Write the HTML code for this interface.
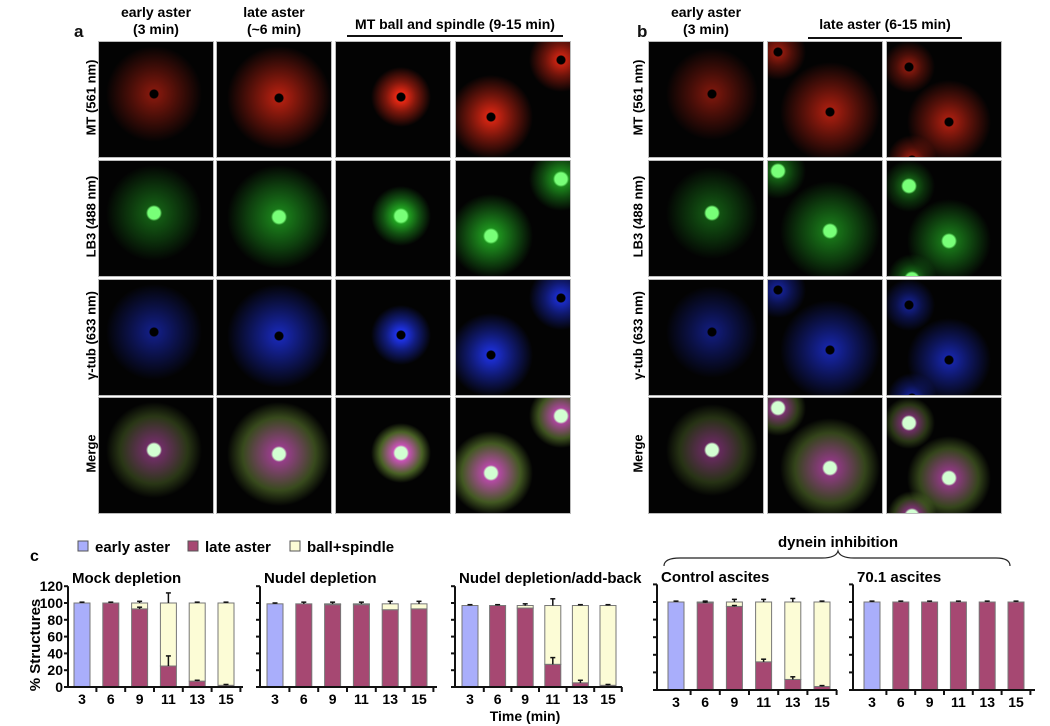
<!DOCTYPE html>
<html><head><meta charset="utf-8">
<style>
body{margin:0;background:#fff;width:1050px;height:726px;overflow:hidden;position:relative;font-family:"Liberation Sans",Arial,sans-serif;}
.t{position:absolute;font-weight:bold;color:#111;}
.tile{position:absolute;width:114px;height:115px;background:#030303;outline:1px solid #bbb;overflow:hidden;}
.rl{position:absolute;font-weight:bold;font-size:13px;transform:rotate(-90deg);transform-origin:center;white-space:nowrap;width:120px;text-align:center;}
.hd{position:absolute;font-weight:bold;font-size:14px;text-align:center;line-height:17px;}
</style></head><body>
<div class="t" style="left:74px;top:22px;font-size:17px;">a</div>
<div class="t" style="left:637px;top:22px;font-size:17px;">b</div>
<div class="hd" style="left:96px;top:4px;width:120px;">early aster<br>(3 min)</div>
<div class="hd" style="left:214px;top:4px;width:120px;">late aster<br>(~6 min)</div>
<div class="hd" style="left:340px;top:16px;width:230px;">MT ball and spindle (9-15 min)</div>
<div style="position:absolute;left:347px;top:35px;width:216px;height:2px;background:#111;"></div>
<div class="hd" style="left:646px;top:4px;width:120px;">early aster<br>(3 min)</div>
<div class="hd" style="left:800px;top:16px;width:170px;">late aster (6-15 min)</div>
<div style="position:absolute;left:808px;top:37px;width:154px;height:2px;background:#111;"></div>
<div id="tiles"></div>
<svg id="chart" width="1050" height="726" style="position:absolute;left:0;top:0;"></svg>
<script>
// ---------- microscopy tiles (decorative) ----------
const rowsY=[42,161,280,398];
const colsA=[99,217,336,456], colsB=[649,768,887];
const rowLabels=["MT (561 nm)","LB3 (488 nm)","γ-tub (633 nm)","Merge"];
const blobs={
 a0:[[55,52,48,0.55]],a1:[[62,56,52,0.75]],a2:[[65,55,30,1]],a3:[[35,75,42,0.9],[105,18,32,0.85]],
 b0:[[63,52,46,0.5]],b1:[[62,70,50,0.7],[10,10,28,0.6]],b2:[[62,80,42,0.7],[22,25,26,0.55],[25,118,25,0.6]]
};
const colors=["230,40,20","40,200,40","30,50,230","220,90,200"];
const tilesEl=document.getElementById('tiles');
function makeTile(x,y,key,row){
 const d=document.createElement('div');
 d.className='tile';d.style.left=x+'px';d.style.top=y+'px';
 
 
 const g=[];
 blobs[key].forEach(b=>{
  const [cx,cy,r,a]=b;const c=colors[row];
  if(row===0||row===2) g.push(`radial-gradient(circle at ${cx}px ${cy}px, rgba(0,0,0,1) 0 4px, rgba(${c},${a}) 5px, rgba(${c},${a*0.55}) ${r*0.5}px, rgba(0,0,0,0) ${r}px)`);
  else if(row===1) g.push(`radial-gradient(circle at ${cx}px ${cy}px, rgba(120,255,120,1) 0 6px, rgba(${c},${a*0.8}) 8px, rgba(${c},${a*0.4}) ${r*0.6}px, rgba(0,0,0,0) ${r}px)`);
  else g.push(`radial-gradient(circle at ${cx}px ${cy}px, rgba(210,255,210,1) 0 6px, rgba(${c},${a*0.9}) 8px, rgba(120,160,60,${a*0.6}) ${r*0.7}px, rgba(0,0,0,0) ${r}px)`);
 });
 d.style.background=g.join(',')+',#030303';
 tilesEl.appendChild(d);
}
rowsY.forEach((y,r)=>{
 colsA.forEach((x,i)=>makeTile(x,y,'a'+i,r));
 colsB.forEach((x,i)=>makeTile(x,y,'b'+i,r));
 [[31,'a'],[578,'b']].forEach(([lx,p])=>{
  const l=document.createElement('div');l.className='rl';
  l.style.left=lx+'px';l.style.top=(y+48)+'px';l.textContent=rowLabels[r];
  
  
  tilesEl.appendChild(l);
 });
});
</script>
<script>
// ---------- bar chart data ----------
const categories=["3","6","9","11","13","15"];
const yTicks=[0,20,40,60,80,100,120];
const panelTitles=["Mock depletion","Nudel depletion","Nudel depletion/add-back","Control ascites","70.1 ascites"];
const earlyMock=[100,0,0,0,0,0], lateMock=[0,100,93,25,7,2], ballMock=[0,0,7,75,93,98], errMock=[1,1,2,12,1,1];
const earlyNudel=[99,0,0,0,0,0], lateNudel=[0,99,98,98,92,93], ballNudel=[0,0,1,1,7,6], errNudel=[1,2,2,2,3,3];
const earlyAdd=[97,0,0,0,0,0], lateAdd=[0,97,94,27,5,2], ballAdd=[0,0,3,70,92,95], errAdd=[1,1,2,8,1,1];
const earlyCtl=[100,0,0,0,0,0], lateCtl=[0,99,95,32,12,4], ballCtl=[0,1,5,68,88,96], errCtl=[1,1,3,3,4,1];
const early701=[100,0,0,0,0,0], late701=[0,100,100,100,100,100], ball701=[0,0,0,0,0,0], err701=[1,1,1,1,1,1];
const lateErr=[[0,1,2,12,1,1],[0,1,0,0,0,0],[0,0,0,8,3,1],[0,1,1,3,3,1],[0,0,0,0,0,0]];
</script>
<script>
const svg=document.getElementById('chart');
const NS='http://www.w3.org/2000/svg';
function el(tag,attrs,name){const e=document.createElementNS(NS,tag);for(const k in attrs)e.setAttribute(k,attrs[k]);
 
 
 svg.appendChild(e);return e;}
const panels=[
 {x0:68,x1:243,y0:687,y100:603,first:82,step:28.8,data:[earlyMock,lateMock,ballMock,errMock],labels:true},
 {x0:260,x1:437,y0:687,y100:603,first:275,step:28.8,data:[earlyNudel,lateNudel,ballNudel,errNudel]},
 {x0:455,x1:622,y0:687,y100:603,first:470,step:27.6,data:[earlyAdd,lateAdd,ballAdd,errAdd]},
 {x0:657,x1:837,y0:690,y100:602,first:676,step:29.2,data:[earlyCtl,lateCtl,ballCtl,errCtl]},
 {x0:853,x1:1035,y0:690,y100:602,first:872,step:28.8,data:[early701,late701,ball701,err701]}
];
const cols={early:"#a9aefb",late:"#a64872",ball:"#fcfcd6"};
panels.forEach((p,pi)=>{
 const ys=v=>p.y0-(p.y100-p.y0)*-v/100;
 const xs=i=>p.first+i*p.step;
 const [e,l,b,er]=p.data;
 el('text',{x:p.x0+4,y:p.y100-20,'font-size':15,'font-weight':'bold','font-family':'Liberation Sans, sans-serif'},'panel-title-'+pi).textContent=panelTitles[pi];
 categories.forEach((c,i)=>{
  const bw=16,x=xs(i)-bw/2;
  let base=0;
  [[e[i],cols.early,'early'],[l[i],cols.late,'late'],[b[i],cols.ball,'ball']].forEach(([v,col,nm])=>{
   if(v>0){el('rect',{x:x,y:ys(base+v),width:bw,height:ys(base)-ys(base+v),fill:col,stroke:'#777','stroke-width':1},'bar-'+nm+'-'+pi+'-'+c);}
   base+=v;
  });
  const top=ys(base), etop=ys(base+er[i]);
  el('line',{x1:xs(i),x2:xs(i),y1:top,y2:etop,stroke:'#111','stroke-width':1.5},'error-bar-'+pi+'-'+c);
  el('line',{x1:xs(i)-2.5,x2:xs(i)+2.5,y1:etop,y2:etop,stroke:'#111','stroke-width':1.5},'error-cap-'+pi+'-'+c);
  if(lateErr[pi][i]>0 && b[i]>0){const lt=ys(e[i]+l[i]),le=ys(e[i]+l[i]+lateErr[pi][i]);
   el('line',{x1:xs(i),x2:xs(i),y1:lt,y2:le,stroke:'#111','stroke-width':1.5},'late-error-'+pi+'-'+c);
   el('line',{x1:xs(i)-2.5,x2:xs(i)+2.5,y1:le,y2:le,stroke:'#111','stroke-width':1.5},'late-error-cap-'+pi+'-'+c);}
  el('text',{x:xs(i),y:p.y0+17,'font-size':14,'font-weight':'bold','text-anchor':'middle','font-family':'Liberation Sans, sans-serif'},'x-tick-label-'+pi+'-'+c).textContent=c;
  if(i<categories.length) el('line',{x1:xs(i)+p.step/2,x2:xs(i)+p.step/2,y1:p.y0,y2:p.y0+5,stroke:'#111','stroke-width':2},'x-tick-'+pi+'-'+i);
 });
 el('line',{x1:p.x0,x2:p.x0,y1:ys(120),y2:p.y0,stroke:'#111','stroke-width':2},'y-axis-'+pi);
 el('line',{x1:p.x0,x2:p.x1,y1:p.y0,y2:p.y0,stroke:'#111','stroke-width':2},'x-axis-'+pi);
 yTicks.forEach(t=>{
  el('line',{x1:p.x0-4,x2:p.x0,y1:ys(t),y2:ys(t),stroke:'#111','stroke-width':2},'y-tick-'+pi+'-'+t);
  if(p.labels) el('text',{x:p.x0-5,y:ys(t)+5,'font-size':14,'font-weight':'bold','text-anchor':'end','font-family':'Liberation Sans, sans-serif'},'y-tick-label-'+t).textContent=t;
 });
});
const yt=el('text',{x:0,y:0,'font-size':15,'font-weight':'bold','text-anchor':'middle','font-family':'Liberation Sans, sans-serif',transform:'translate(40,645) rotate(-90)'},'y-axis-title');yt.textContent='% Structures';
el('text',{x:525,y:721,'font-size':14,'font-weight':'bold','text-anchor':'middle','font-family':'Liberation Sans, sans-serif'},'x-axis-title').textContent='Time (min)';
el('text',{x:30,y:561,'font-size':16,'font-weight':'bold','font-family':'Liberation Sans, sans-serif'},'panel-c-label').textContent='c';
const leg=[["early aster",cols.early,78],["late aster",cols.late,188],["ball+spindle",cols.ball,290]];
leg.forEach(([t,c,x])=>{
 el('rect',{x:x,y:541,width:10,height:10,fill:c,stroke:'#555'},'legend-swatch-'+t.replace(/\W/g,'-'));
 el('text',{x:x+17,y:552,'font-size':15,'font-weight':'bold','font-family':'Liberation Sans, sans-serif'},'legend-entry-'+t.replace(/\W/g,'-')).textContent=t;
});
el('path',{d:'M664,566 Q664,558 680,558 L822,558 Q836,558 838,551 Q840,558 854,558 L996,558 Q1010,558 1010,566',fill:'none',stroke:'#222','stroke-width':1.2},'dynein-brace');
el('text',{x:838,y:547,'font-size':15,'font-weight':'bold','text-anchor':'middle','font-family':'Liberation Sans, sans-serif'},'dynein-inhibition-label').textContent='dynein inhibition';
</script>
</body></html>
